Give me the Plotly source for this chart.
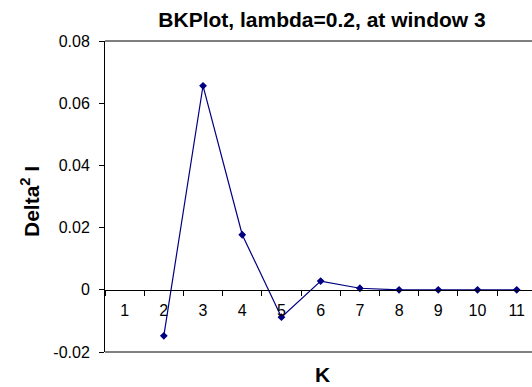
import plotly.graph_objects as go

# K values along the category axis and the second difference of I at each K
k_labels = ["1", "2", "3", "4", "5", "6", "7", "8", "9", "10", "11"]
delta2_i = [None, -0.0148, 0.0656, 0.0177, -0.0088, 0.0028, 0.0005, 0.0, 0.0, 0.0, 0.0]

y_tick_vals = [-0.02, 0.0, 0.02, 0.04, 0.06, 0.08]
y_tick_text = ["-0.02", "0", "0.02", "0.04", "0.06", "0.08"]

title_text = "BKPlot, lambda=0.2, at window 3"
x_title = "K"
y_title = "Delta<sup>2</sup> I"

FONT = "Liberation Sans, Arial, Helvetica, sans-serif"
NAVY = "#000080"

y_min, y_max = -0.02, 0.08
zero_pos = (0 - y_min) / (y_max - y_min)

fig = go.Figure()
fig.add_trace(go.Scatter(
    x=k_labels,
    y=delta2_i,
    mode="lines+markers",
    line=dict(color=NAVY, width=1.2),
    marker=dict(symbol="diamond", size=6, color=NAVY),
    connectgaps=False,
    showlegend=False,
    cliponaxis=False,
))

fig.update_layout(
    width=532,
    height=387,
    margin=dict(l=105, r=0, t=41, b=35),
    paper_bgcolor="white",
    plot_bgcolor="white",
    font=dict(family=FONT, size=16, color="black"),
    title=dict(
        text=f"<b>{title_text}</b>",
        font=dict(family=FONT, size=21, color="black"),
        x=322 / 532, xref="container", xanchor="center",
        y=1 - 20 / 387, yref="container", yanchor="middle",
    ),
    xaxis=dict(
        type="category",
        categoryorder="array",
        categoryarray=k_labels,
        range=[-0.5, 10.39],
        anchor="free",
        position=zero_pos,
        showline=True,
        linecolor="black",
        linewidth=1,
        ticks="outside",
        ticklen=5,
        tickcolor="black",
        tickson="boundaries",
        showgrid=False,
        zeroline=False,
        tickfont=dict(family=FONT, size=16, color="black"),
        ticklabelstandoff=6,
    ),
    yaxis=dict(
        range=[y_min, y_max],
        domain=[0, 1],
        tickvals=y_tick_vals,
        ticktext=y_tick_text,
        showline=True,
        linecolor="black",
        linewidth=1,
        ticks="outside",
        ticklen=5,
        tickcolor="black",
        showgrid=False,
        zeroline=False,
        tickfont=dict(family=FONT, size=16, color="black"),
        ticklabelstandoff=6,
    ),
    shapes=[
        dict(type="line", xref="paper", yref="paper", x0=0, x1=1, y0=1, y1=1,
             line=dict(color="black", width=1), layer="below"),
        dict(type="line", xref="paper", yref="paper", x0=0, x1=1, y0=0, y1=0,
             line=dict(color="black", width=1), layer="below"),
    ],
    annotations=[
        dict(text=f"<b>{x_title}</b>", xref="paper", yref="paper",
             x=(322 - 105) / 427, y=(352 - 374) / 311, xanchor="center", yanchor="middle",
             showarrow=False, font=dict(family=FONT, size=21, color="black")),
        dict(text=f"<b>{y_title}</b>", xref="paper", yref="paper",
             x=(30 - 105) / 427, y=(352 - 202) / 311, xanchor="center", yanchor="middle",
             textangle=-90, showarrow=False,
             font=dict(family=FONT, size=21, color="black")),
    ],
)

fig.write_html("out.html")
